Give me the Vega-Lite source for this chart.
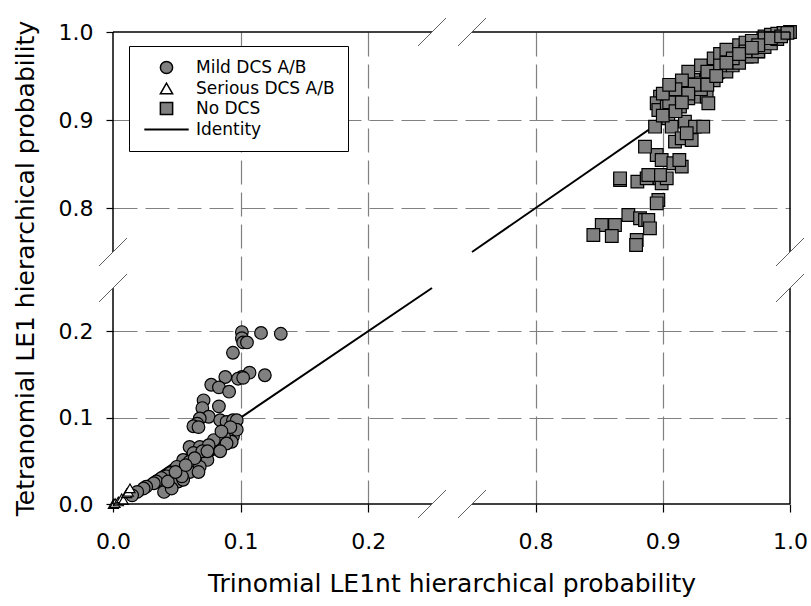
{
  "$schema": "https://vega.github.io/schema/vega-lite/v6.json",
  "width": 677,
  "height": 472,
  "autosize": {"type": "none"},
  "padding": {"left": 113, "top": 32, "right": 21, "bottom": 102},
  "background": "white",
  "config": {"view": {"stroke": null}, "font": "DejaVu Sans"},
  "datasets": {
    "pts": [
      {"g":"Mild DCS A/B","x":0.101,"y":0.199},{"g":"Mild DCS A/B","x":0.101,"y":0.192},{"g":"Mild DCS A/B","x":0.102,"y":0.187},{"g":"Mild DCS A/B","x":0.105,"y":0.187},
      {"g":"Mild DCS A/B","x":0.116,"y":0.198},{"g":"Mild DCS A/B","x":0.1315,"y":0.197},{"g":"Mild DCS A/B","x":0.094,"y":0.175},{"g":"Mild DCS A/B","x":0.119,"y":0.149},
      {"g":"Mild DCS A/B","x":0.107,"y":0.152},{"g":"Mild DCS A/B","x":0.101,"y":0.147},{"g":"Mild DCS A/B","x":0.098,"y":0.145},{"g":"Mild DCS A/B","x":0.102,"y":0.146},
      {"g":"Mild DCS A/B","x":0.088,"y":0.147},{"g":"Mild DCS A/B","x":0.077,"y":0.138},{"g":"Mild DCS A/B","x":0.083,"y":0.135},{"g":"Mild DCS A/B","x":0.091,"y":0.130},
      {"g":"Mild DCS A/B","x":0.071,"y":0.120},{"g":"Mild DCS A/B","x":0.070,"y":0.111},{"g":"Mild DCS A/B","x":0.083,"y":0.113},{"g":"Mild DCS A/B","x":0.075,"y":0.101},
      {"g":"Mild DCS A/B","x":0.068,"y":0.099},{"g":"Mild DCS A/B","x":0.066,"y":0.093},{"g":"Mild DCS A/B","x":0.063,"y":0.090},{"g":"Mild DCS A/B","x":0.067,"y":0.089},
      {"g":"Mild DCS A/B","x":0.084,"y":0.097},{"g":"Mild DCS A/B","x":0.089,"y":0.095},{"g":"Mild DCS A/B","x":0.094,"y":0.097},{"g":"Mild DCS A/B","x":0.087,"y":0.082},
      {"g":"Mild DCS A/B","x":0.092,"y":0.084},{"g":"Mild DCS A/B","x":0.094,"y":0.078},{"g":"Mild DCS A/B","x":0.093,"y":0.072},{"g":"Mild DCS A/B","x":0.060,"y":0.066},
      {"g":"Mild DCS A/B","x":0.068,"y":0.066},{"g":"Mild DCS A/B","x":0.076,"y":0.062},{"g":"Mild DCS A/B","x":0.081,"y":0.064},{"g":"Mild DCS A/B","x":0.063,"y":0.059},
      {"g":"Mild DCS A/B","x":0.071,"y":0.055},{"g":"Mild DCS A/B","x":0.055,"y":0.051},{"g":"Mild DCS A/B","x":0.060,"y":0.049},{"g":"Mild DCS A/B","x":0.066,"y":0.045},
      {"g":"Mild DCS A/B","x":0.074,"y":0.051},{"g":"Mild DCS A/B","x":0.050,"y":0.043},{"g":"Mild DCS A/B","x":0.058,"y":0.039},{"g":"Mild DCS A/B","x":0.053,"y":0.036},
      {"g":"Mild DCS A/B","x":0.045,"y":0.036},{"g":"Mild DCS A/B","x":0.047,"y":0.028},{"g":"Mild DCS A/B","x":0.042,"y":0.032},{"g":"Mild DCS A/B","x":0.038,"y":0.030},
      {"g":"Mild DCS A/B","x":0.034,"y":0.026},{"g":"Mild DCS A/B","x":0.032,"y":0.024},{"g":"Mild DCS A/B","x":0.026,"y":0.020},{"g":"Mild DCS A/B","x":0.024,"y":0.018},
      {"g":"Mild DCS A/B","x":0.019,"y":0.014},{"g":"Mild DCS A/B","x":0.015,"y":0.010},{"g":"Mild DCS A/B","x":0.040,"y":0.014},{"g":"Mild DCS A/B","x":0.051,"y":0.026},
      {"g":"Mild DCS A/B","x":0.060,"y":0.037},{"g":"Mild DCS A/B","x":0.068,"y":0.043},{"g":"Mild DCS A/B","x":0.087,"y":0.078},{"g":"Mild DCS A/B","x":0.089,"y":0.070},
      {"g":"Mild DCS A/B","x":0.079,"y":0.074},{"g":"Mild DCS A/B","x":0.075,"y":0.068},{"g":"Mild DCS A/B","x":0.070,"y":0.061},{"g":"Mild DCS A/B","x":0.046,"y":0.018},
      {"g":"Mild DCS A/B","x":0.055,"y":0.028},{"g":"Mild DCS A/B","x":0.097,"y":0.097},{"g":"Mild DCS A/B","x":0.097,"y":0.086},{"g":"Mild DCS A/B","x":0.092,"y":0.089},
      {"g":"Mild DCS A/B","x":0.085,"y":0.084},{"g":"Mild DCS A/B","x":0.043,"y":0.026},{"g":"Mild DCS A/B","x":0.054,"y":0.032},{"g":"Mild DCS A/B","x":0.064,"y":0.053},
      {"g":"Mild DCS A/B","x":0.057,"y":0.045},{"g":"Mild DCS A/B","x":0.074,"y":0.061},{"g":"Mild DCS A/B","x":0.084,"y":0.061},{"g":"Mild DCS A/B","x":0.067,"y":0.037},
      {"g":"Mild DCS A/B","x":0.049,"y":0.037},
      {"g":"Serious DCS A/B","x":0.0003,"y":0.0},{"g":"Serious DCS A/B","x":0.0016,"y":0.001},{"g":"Serious DCS A/B","x":0.0042,"y":0.003},{"g":"Serious DCS A/B","x":0.0068,"y":0.0066},
      {"g":"Serious DCS A/B","x":0.0081,"y":0.0046},{"g":"Serious DCS A/B","x":0.0107,"y":0.0124},{"g":"Serious DCS A/B","x":0.012,"y":0.0142},{"g":"Serious DCS A/B","x":0.0133,"y":0.0181},
      {"g":"No DCS","x":0.8664,"y":0.8318},{"g":"No DCS","x":0.880,"y":0.830},{"g":"No DCS","x":0.8873,"y":0.8337},{"g":"No DCS","x":0.8899,"y":0.8375},
      {"g":"No DCS","x":0.8978,"y":0.8337},{"g":"No DCS","x":0.8991,"y":0.8281},{"g":"No DCS","x":0.9031,"y":0.8337},{"g":"No DCS","x":0.8952,"y":0.8602},
      {"g":"No DCS","x":0.8991,"y":0.8545},{"g":"No DCS","x":0.9083,"y":0.8508},{"g":"No DCS","x":0.9149,"y":0.8470},{"g":"No DCS","x":0.913,"y":0.8545},
      {"g":"No DCS","x":0.8965,"y":0.8091},{"g":"No DCS","x":0.8952,"y":0.8053},{"g":"No DCS","x":0.8729,"y":0.792},{"g":"No DCS","x":0.8821,"y":0.7883},
      {"g":"No DCS","x":0.886,"y":0.7864},{"g":"No DCS","x":0.8886,"y":0.7864},{"g":"No DCS","x":0.8899,"y":0.7769},{"g":"No DCS","x":0.852,"y":0.7807},
      {"g":"No DCS","x":0.8624,"y":0.7807},{"g":"No DCS","x":0.8454,"y":0.7693},{"g":"No DCS","x":0.8599,"y":0.7682},{"g":"No DCS","x":0.8795,"y":0.7636},
      {"g":"No DCS","x":0.879,"y":0.758},{"g":"No DCS","x":1.0,"y":1.0},{"g":"No DCS","x":0.9947,"y":0.9985},{"g":"No DCS","x":0.9908,"y":0.9966},
      {"g":"No DCS","x":0.9856,"y":0.9966},{"g":"No DCS","x":0.979,"y":0.9928},{"g":"No DCS","x":0.9751,"y":0.9777},{"g":"No DCS","x":0.966,"y":0.972},
      {"g":"No DCS","x":0.9554,"y":0.9777},{"g":"No DCS","x":0.9476,"y":0.9644},{"g":"No DCS","x":0.9345,"y":0.9492},{"g":"No DCS","x":0.9397,"y":0.9568},
      {"g":"No DCS","x":0.9502,"y":0.9701},{"g":"No DCS","x":0.9607,"y":0.9814},{"g":"No DCS","x":0.9188,"y":0.9398},{"g":"No DCS","x":0.924,"y":0.9455},
      {"g":"No DCS","x":0.9292,"y":0.9417},{"g":"No DCS","x":0.9109,"y":0.9265},{"g":"No DCS","x":0.9083,"y":0.936},{"g":"No DCS","x":0.9267,"y":0.9265},
      {"g":"No DCS","x":0.9345,"y":0.9265},{"g":"No DCS","x":0.9358,"y":0.919},{"g":"No DCS","x":0.8978,"y":0.9265},{"g":"No DCS","x":0.8952,"y":0.919},
      {"g":"No DCS","x":0.8965,"y":0.9114},{"g":"No DCS","x":0.9031,"y":0.9152},{"g":"No DCS","x":0.9135,"y":0.9152},{"g":"No DCS","x":0.92,"y":0.9246},
      {"g":"No DCS","x":0.8939,"y":0.8924},{"g":"No DCS","x":0.9043,"y":0.9019},{"g":"No DCS","x":0.907,"y":0.8924},{"g":"No DCS","x":0.9174,"y":0.8981},
      {"g":"No DCS","x":0.9253,"y":0.8924},{"g":"No DCS","x":0.9318,"y":0.8924},{"g":"No DCS","x":0.9096,"y":0.8754},{"g":"No DCS","x":0.9149,"y":0.8792},
      {"g":"No DCS","x":0.9227,"y":0.8773},{"g":"No DCS","x":0.9188,"y":0.8849},{"g":"No DCS","x":0.886,"y":0.8697},{"g":"No DCS","x":0.8978,"y":0.8375},
      {"g":"No DCS","x":0.8664,"y":0.8337},{"g":"No DCS","x":0.8886,"y":0.8375},
      {"g":"No DCS","x":0.92,"y":0.955},{"g":"No DCS","x":0.93,"y":0.962},{"g":"No DCS","x":0.94,"y":0.97},{"g":"No DCS","x":0.945,"y":0.975},
      {"g":"No DCS","x":0.95,"y":0.98},{"g":"No DCS","x":0.96,"y":0.985},{"g":"No DCS","x":0.965,"y":0.988},{"g":"No DCS","x":0.97,"y":0.99},
      {"g":"No DCS","x":0.98,"y":0.995},{"g":"No DCS","x":0.985,"y":0.997},{"g":"No DCS","x":0.99,"y":0.998},{"g":"No DCS","x":0.995,"y":0.999},
      {"g":"No DCS","x":0.93,"y":0.935},{"g":"No DCS","x":0.94,"y":0.945},{"g":"No DCS","x":0.95,"y":0.955},{"g":"No DCS","x":0.955,"y":0.962},
      {"g":"No DCS","x":0.96,"y":0.965},{"g":"No DCS","x":0.97,"y":0.972},{"g":"No DCS","x":0.975,"y":0.978},{"g":"No DCS","x":0.98,"y":0.983},
      {"g":"No DCS","x":0.985,"y":0.987},{"g":"No DCS","x":0.99,"y":0.992},{"g":"No DCS","x":0.925,"y":0.94},{"g":"No DCS","x":0.935,"y":0.955},
      {"g":"No DCS","x":0.945,"y":0.962},{"g":"No DCS","x":0.955,"y":0.97},{"g":"No DCS","x":0.965,"y":0.978},{"g":"No DCS","x":0.975,"y":0.985},
      {"g":"No DCS","x":0.985,"y":0.993},{"g":"No DCS","x":0.915,"y":0.945},{"g":"No DCS","x":0.91,"y":0.935},{"g":"No DCS","x":0.92,"y":0.93},
      {"g":"No DCS","x":0.905,"y":0.92},{"g":"No DCS","x":0.9,"y":0.905},{"g":"No DCS","x":0.91,"y":0.91},{"g":"No DCS","x":0.915,"y":0.92},
      {"g":"No DCS","x":0.935,"y":0.94},{"g":"No DCS","x":0.942,"y":0.95},{"g":"No DCS","x":0.95,"y":0.965},{"g":"No DCS","x":0.96,"y":0.975},
      {"g":"No DCS","x":0.97,"y":0.982},{"g":"No DCS","x":0.993,"y":0.995},{"g":"No DCS","x":0.998,"y":0.999},{"g":"No DCS","x":0.9,"y":0.93},
      {"g":"No DCS","x":0.905,"y":0.94}
    ],
    "ident": [{"seg":"a","v":0},{"seg":"a","v":0.25},{"seg":"b","v":0.75},{"seg":"b","v":1}],
    "segs": [{"lo":0,"hi":0.25},{"lo":0.75,"hi":1}],
    "brk": [{"at":0.25},{"at":0.75}]
  },
  "layer": [
    {
      "data": {"name": "ident"},
      "mark": {"type": "line", "color": "black", "strokeWidth": 2},
      "encoding": {
        "x": {"field": "v", "type": "quantitative"},
        "y": {"field": "v", "type": "quantitative"},
        "detail": {"field": "seg"}
      }
    },
    {
      "data": {"name": "pts"},
      "transform": [{"filter": "datum.g !== 'Serious DCS A/B'"}],
      "mark": {"type": "point", "filled": true, "size": 160, "stroke": "black", "strokeWidth": 1.2, "opacity": 1},
      "encoding": {
        "x": {
          "field": "x", "type": "quantitative",
          "scale": {"domain": [0, 0.25, 0.75, 1], "range": [0, 319, 359, 677], "nice": false, "zero": false},
          "axis": {
            "title": "Trinomial LE1nt hierarchical probability",
            "values": [0, 0.1, 0.2, 0.8, 0.9, 1], "format": ".1f",
            "domain": false, "ticks": true, "tickColor": "black", "tickSize": 8, "tickWidth": 1.2,
            "labelFont": "DejaVu Sans", "labelFontSize": 22, "labelColor": "black", "labelPadding": 19,
            "labelFlush": false, "labelOverlap": false,
            "grid": true, "gridColor": "#808080", "gridDash": [24, 8], "gridWidth": 1.2,
            "gridOpacity": {"condition": {"test": "datum.value === 0 || datum.value === 1", "value": 0}, "value": 1},
            "titleFont": "DejaVu Sans", "titleFontSize": 25, "titleFontWeight": "normal", "titleColor": "black", "titlePadding": 19
          }
        },
        "y": {
          "field": "y", "type": "quantitative",
          "scale": {"domain": [0, 0.25, 0.75, 1], "range": [472, 256, 220, 0], "nice": false, "zero": false},
          "axis": {
            "title": "Tetranomial LE1 hierarchical probability",
            "values": [0, 0.1, 0.2, 0.8, 0.9, 1], "format": ".1f",
            "domain": false, "ticks": true, "tickColor": "black", "tickSize": 7, "tickWidth": 1.2,
            "labelFont": "DejaVu Sans", "labelFontSize": 22, "labelColor": "black", "labelPadding": 13,
            "labelFlush": false, "labelOverlap": false,
            "grid": true, "gridColor": "#808080", "gridDash": [24, 8], "gridWidth": 1.2,
            "gridOpacity": {"condition": {"test": "datum.value === 0 || datum.value === 1", "value": 0}, "value": 1},
            "titleFont": "DejaVu Sans", "titleFontSize": 25, "titleFontWeight": "normal", "titleColor": "black", "titlePadding": 20
          }
        },
        "shape": {
          "field": "g", "type": "nominal",
          "scale": {"domain": ["Mild DCS A/B", "Serious DCS A/B", "No DCS", "Identity"], "range": ["circle", "triangle-up", "square", "M-3.5,-0.06L3.5,-0.06L3.5,0.06L-3.5,0.06Z"]},
          "legend": {
            "orient": "none", "legendX": 16, "legendY": 14, "title": null,
            "fillColor": "white", "strokeColor": "black", "padding": 13, "rowPadding": 2,
            "symbolSize": 150, "symbolOffset": 16, "labelOffset": 21,
            "labelFont": "DejaVu Sans", "labelFontSize": 17, "labelColor": "black", "labelLimit": 400
          }
        },
        "fill": {
          "field": "g", "type": "nominal",
          "scale": {"domain": ["Mild DCS A/B", "Serious DCS A/B", "No DCS", "Identity"], "range": ["#808080", "#ffffff", "#808080", "#000000"]},
          "legend": {
            "orient": "none", "legendX": 16, "legendY": 14, "title": null,
            "fillColor": "white", "strokeColor": "black", "padding": 13, "rowPadding": 2,
            "symbolSize": 150, "symbolOffset": 16, "labelOffset": 21,
            "labelFont": "DejaVu Sans", "labelFontSize": 17, "labelColor": "black", "labelLimit": 400
          }
        }
      }
    },
    {
      "data": {"name": "pts"},
      "transform": [{"filter": "datum.g === 'Serious DCS A/B'"}],
      "mark": {"type": "point", "filled": true, "size": 100, "stroke": "black", "strokeWidth": 1.2, "opacity": 1},
      "encoding": {
        "x": {"field": "x", "type": "quantitative"},
        "y": {"field": "y", "type": "quantitative"},
        "shape": {"field": "g", "type": "nominal"},
        "fill": {"field": "g", "type": "nominal"}
      }
    },
    {
      "mark": {"type": "rect", "color": "white"},
      "encoding": {
        "x": {"datum": 0.25, "type": "quantitative"},
        "x2": {"datum": 0.75},
        "y": {"datum": 0, "type": "quantitative"},
        "y2": {"datum": 1}
      }
    },
    {
      "mark": {"type": "rect", "color": "white"},
      "encoding": {
        "x": {"datum": 0, "type": "quantitative"},
        "x2": {"datum": 1},
        "y": {"datum": 0.25, "type": "quantitative"},
        "y2": {"datum": 0.75}
      }
    },
    {
      "data": {"name": "segs"},
      "mark": {"type": "rule", "color": "black", "strokeWidth": 1.5},
      "encoding": {
        "x": {"field": "lo", "type": "quantitative"},
        "x2": {"field": "hi"},
        "y": {"datum": 0, "type": "quantitative"}
      }
    },
    {
      "data": {"name": "segs"},
      "mark": {"type": "rule", "color": "black", "strokeWidth": 1.5},
      "encoding": {
        "x": {"field": "lo", "type": "quantitative"},
        "x2": {"field": "hi"},
        "y": {"datum": 1, "type": "quantitative"}
      }
    },
    {
      "data": {"name": "segs"},
      "mark": {"type": "rule", "color": "black", "strokeWidth": 1.5},
      "encoding": {
        "y": {"field": "lo", "type": "quantitative"},
        "y2": {"field": "hi"},
        "x": {"datum": 0, "type": "quantitative"}
      }
    },
    {
      "data": {"name": "segs"},
      "mark": {"type": "rule", "color": "black", "strokeWidth": 1.5},
      "encoding": {
        "y": {"field": "lo", "type": "quantitative"},
        "y2": {"field": "hi"},
        "x": {"datum": 1, "type": "quantitative"}
      }
    },
    {
      "data": {"name": "brk"},
      "mark": {"type": "point", "shape": "M-1,1L1,-1", "size": 784, "filled": false, "color": "#606060", "strokeWidth": 1, "opacity": 1},
      "encoding": {
        "x": {"field": "at", "type": "quantitative"},
        "y": {"datum": 0, "type": "quantitative"}
      }
    },
    {
      "data": {"name": "brk"},
      "mark": {"type": "point", "shape": "M-1,1L1,-1", "size": 784, "filled": false, "color": "#606060", "strokeWidth": 1, "opacity": 1},
      "encoding": {
        "x": {"field": "at", "type": "quantitative"},
        "y": {"datum": 1, "type": "quantitative"}
      }
    },
    {
      "data": {"name": "brk"},
      "mark": {"type": "point", "shape": "M-1,1L1,-1", "size": 784, "filled": false, "color": "#606060", "strokeWidth": 1, "opacity": 1},
      "encoding": {
        "y": {"field": "at", "type": "quantitative"},
        "x": {"datum": 0, "type": "quantitative"}
      }
    },
    {
      "data": {"name": "brk"},
      "mark": {"type": "point", "shape": "M-1,1L1,-1", "size": 784, "filled": false, "color": "#606060", "strokeWidth": 1, "opacity": 1},
      "encoding": {
        "y": {"field": "at", "type": "quantitative"},
        "x": {"datum": 1, "type": "quantitative"}
      }
    }
  ]
}
